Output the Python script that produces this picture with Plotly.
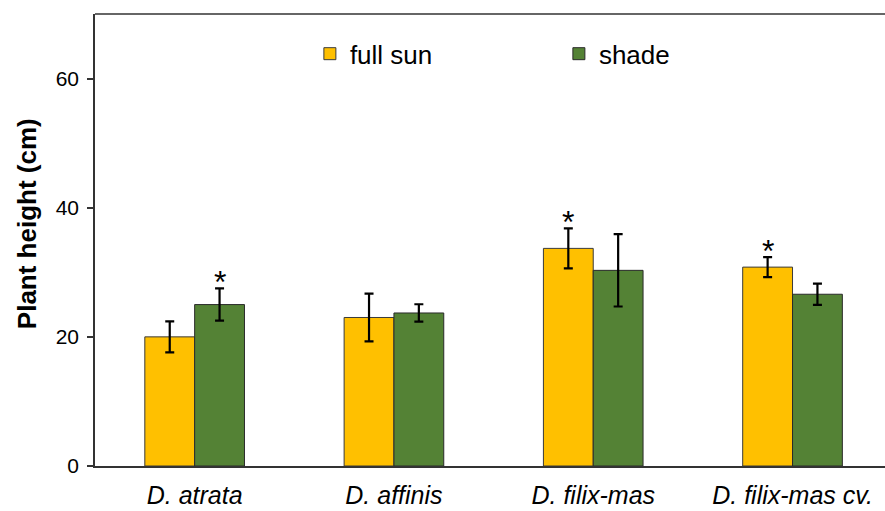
import plotly.graph_objects as go

categories = ["D. atrata", "D. affinis", "D. filix-mas", "D. filix-mas cv."]
full_sun = [20.0, 23.0, 33.7, 30.8]
full_sun_err = [2.4, 3.7, 3.1, 1.55]
shade = [25.0, 23.7, 30.3, 26.6]
shade_err = [2.5, 1.35, 5.6, 1.65]
# significance markers (True = asterisk above the bar)
full_sun_sig = [False, False, True, True]
shade_sig = [True, False, False, False]
y_title = "Plant height (cm)"

cat_labels = [f"<i>{c}</i>" for c in categories]
FONT = "Liberation Sans, Arial, sans-serif"

fig = go.Figure()
fig.add_trace(go.Bar(
    name="full sun", x=cat_labels, y=full_sun,
    marker=dict(color="#FFC000", line=dict(color="#3a3a3a", width=1)),
    error_y=dict(type="data", array=full_sun_err, color="black", thickness=2.2, width=4.5),
))
fig.add_trace(go.Bar(
    name="shade", x=cat_labels, y=shade,
    marker=dict(color="#548235", line=dict(color="#2a2a2a", width=1)),
    error_y=dict(type="data", array=shade_err, color="black", thickness=2.2, width=4.5),
))

# asterisks above significant bars
offset = 0.125
for i, (v, e, s) in enumerate(zip(full_sun, full_sun_err, full_sun_sig)):
    if s:
        fig.add_annotation(x=i - offset, y=v + e, text="*", showarrow=False,
                           yanchor="bottom", yshift=-14, font=dict(size=32, color="black", family=FONT))
for i, (v, e, s) in enumerate(zip(shade, shade_err, shade_sig)):
    if s:
        fig.add_annotation(x=i + offset, y=v + e, text="*", showarrow=False,
                           yanchor="bottom", yshift=-14, font=dict(size=32, color="black", family=FONT))

# y-axis title (placed as rotated annotation to match off-centre position)
fig.add_annotation(xref="paper", yref="paper", x=0, y=0.535, xanchor="center", yanchor="middle",
                   xshift=-68, textangle=-90, showarrow=False,
                   text=f"<b>{y_title}</b>", font=dict(size=26, family=FONT, color="black"))

# top border line of plot area
fig.add_shape(type="line", xref="paper", yref="paper", x0=0, x1=1, y0=1, y1=1,
              line=dict(color="#333333", width=1.5))

fig.update_layout(
    width=885, height=511,
    margin=dict(l=95, r=0, t=14, b=45),
    paper_bgcolor="white", plot_bgcolor="white",
    barmode="group", bargap=0.5, bargroupgap=0,
    font=dict(family=FONT, color="black"),
    showlegend=True,
    legend=dict(orientation="h", x=0.272, xanchor="left", y=0.912, yanchor="middle",
                font=dict(size=26, family=FONT, color="black"),
                entrywidth=204, entrywidthmode="pixels",
                bgcolor="rgba(0,0,0,0)", traceorder="normal"),
)
fig.update_xaxes(
    type="category", range=[-0.5, 3.464], automargin=False,
    showline=True, linecolor="#333333", linewidth=1.5,
    ticks="", showgrid=False, zeroline=False,
    tickfont=dict(size=25, family=FONT, color="black"),
    ticklabelstandoff=6,
)
fig.update_yaxes(
    range=[0, 70], tickvals=[0, 20, 40, 60], automargin=False,
    showline=True, linecolor="#333333", linewidth=1.5,
    ticks="outside", ticklen=6, tickcolor="#333333", tickwidth=1.5,
    showgrid=False, zeroline=False,
    tickfont=dict(size=21, family=FONT, color="black"),
    ticklabelstandoff=4,
)

fig.write_html("out.html", config={"displayModeBar": False},
               post_script="document.body.style.margin='0';document.body.style.overflow='hidden';")
